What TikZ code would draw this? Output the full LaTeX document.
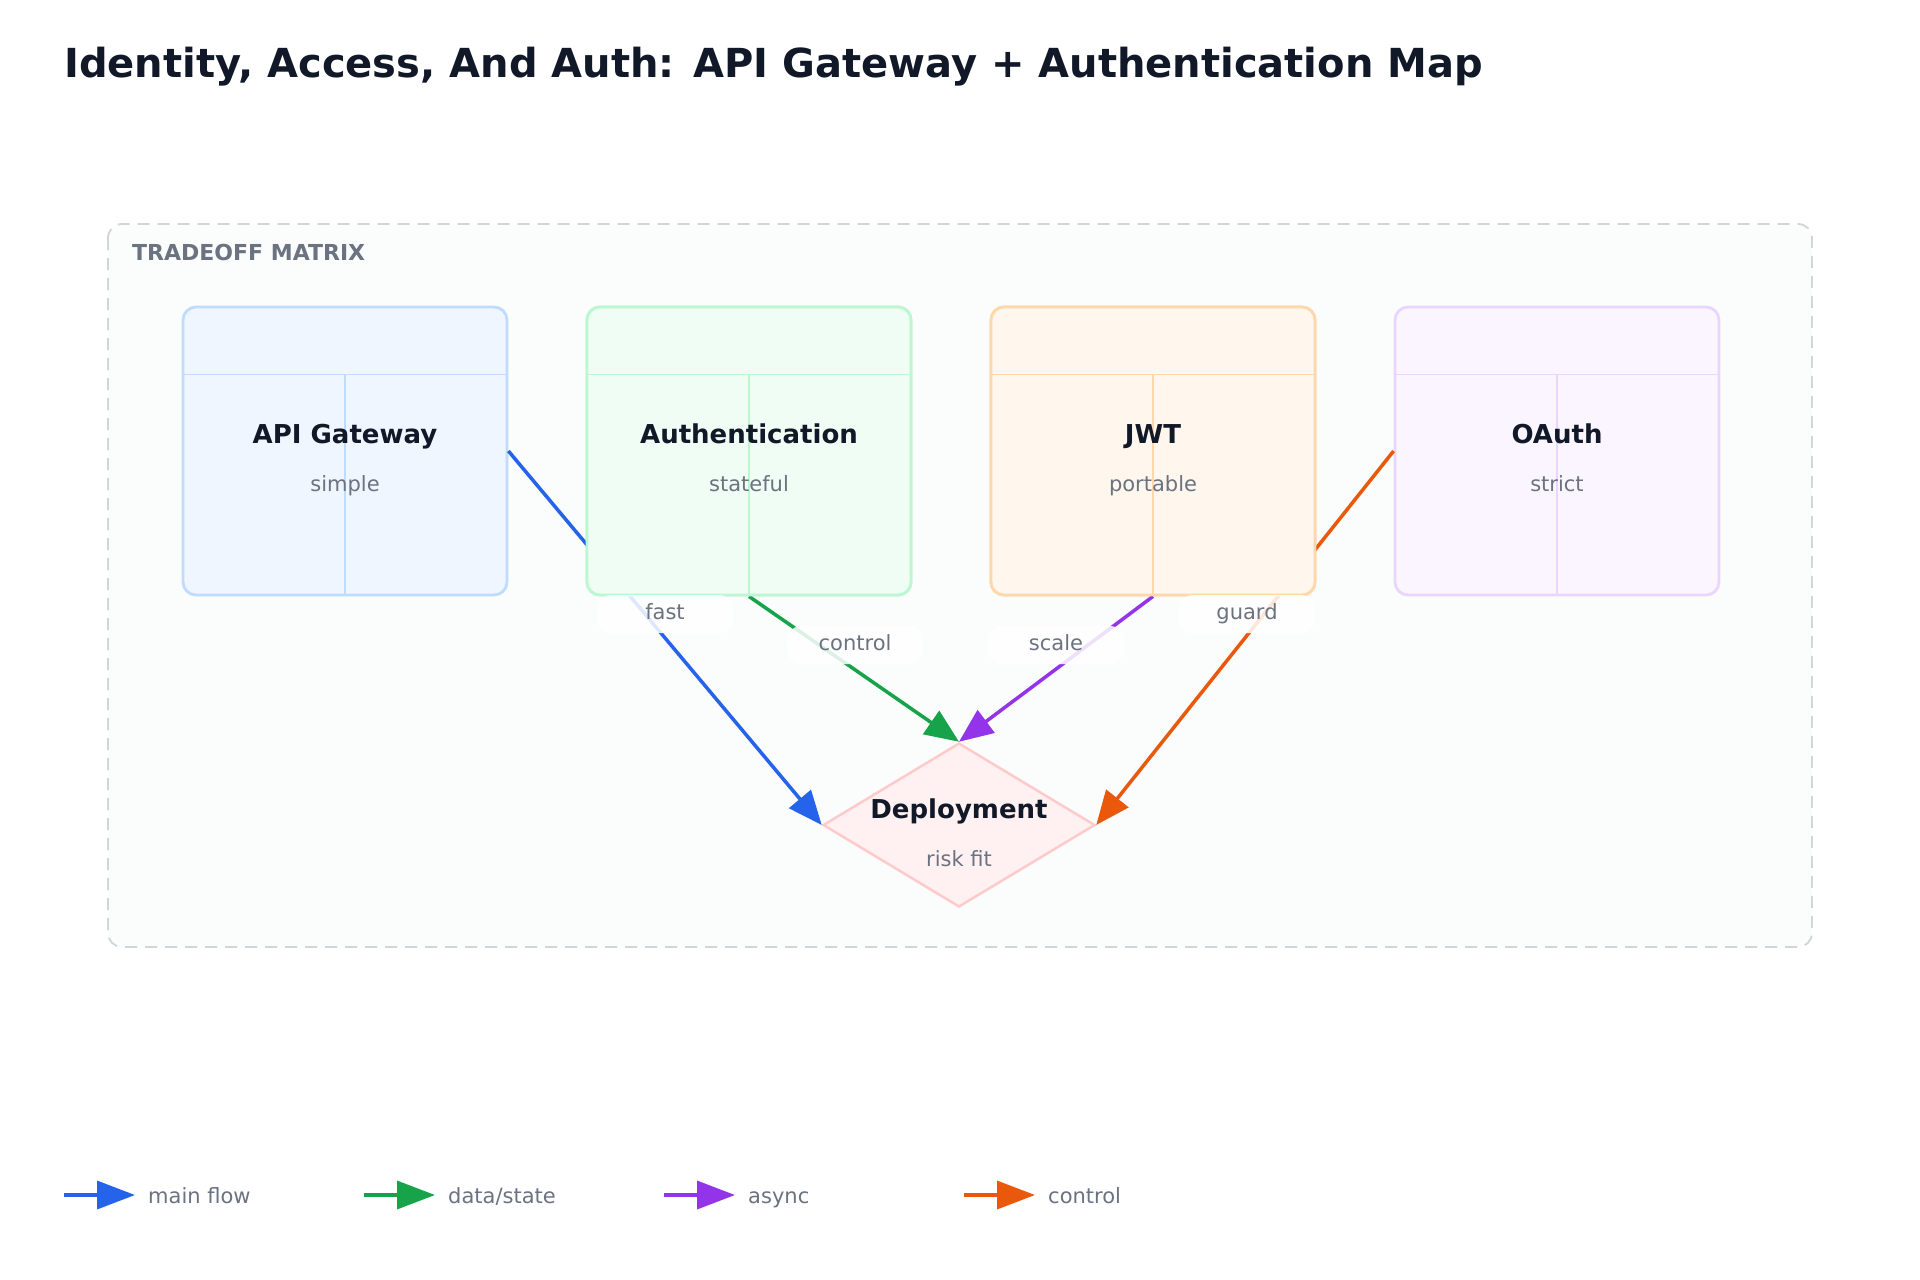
\documentclass[tikz,border=0pt]{standalone}
\usepackage{fontspec}
\setmainfont{DejaVu Sans}
\usetikzlibrary{arrows.meta,shapes.geometric}
\definecolor{ink}{HTML}{111827}
\definecolor{muted}{HTML}{6B7280}
\definecolor{framec}{HTML}{D1D5DB}
\definecolor{framefill}{HTML}{FBFCFC}
\definecolor{cblue}{HTML}{2563EB}
\definecolor{cgreen}{HTML}{16A34A}
\definecolor{cpurple}{HTML}{9333EA}
\definecolor{corange}{HTML}{EA580C}
\definecolor{fblue}{HTML}{EFF6FF}\definecolor{sblue}{HTML}{BFDBFE}
\definecolor{fgreen}{HTML}{F0FDF4}\definecolor{sgreen}{HTML}{BBF7D0}
\definecolor{forange}{HTML}{FFF7ED}\definecolor{sorange}{HTML}{FED7AA}
\definecolor{fpurple}{HTML}{FAF5FF}\definecolor{spurple}{HTML}{E9D5FF}
\definecolor{fred}{HTML}{FFF1F2}\definecolor{sred}{HTML}{FECACA}
\tikzset{
  card/.style={draw=#1, line width=2.8pt, rounded corners=13pt, minimum width=324pt, minimum height=288pt, inner sep=0pt},
  divider/.style={draw=#1, line width=1.6pt},
  cardtitle/.style={anchor=base, text=ink, font=\fontsize{26}{31}\selectfont\bfseries, inner sep=0pt},
  cardsub/.style={anchor=base, text=muted, font=\fontsize{21}{25}\selectfont, inner sep=0pt},
  conn/.style={draw=#1, line width=3.5pt, -{Triangle[length=34pt,width=28pt]}},
  lbl/.style={fill=white, fill opacity=0.85, text opacity=1, text=muted, rounded corners=14pt, minimum width=136pt, minimum height=38pt, inner sep=0pt, font=\fontsize{21}{25}\selectfont, text height=15pt, text depth=4pt},
  legarrow/.style={draw=#1, line width=3.5pt, -{Triangle[length=38pt,width=28pt]}},
  legtext/.style={anchor=base west, text=muted, font=\fontsize{21}{25}\selectfont, inner sep=0pt},
}
\begin{document}
\begin{tikzpicture}[x=1pt,y=-1pt]
\useasboundingbox[fill=white] (0,0) rectangle (1920,1280);
% title
\node[anchor=base west, inner sep=0pt, text=ink, font=\fontsize{40}{48}\selectfont\bfseries] (title) at (64,77) {Identity, Access, And Auth: API Gateway + Authentication Map};
% frame
\draw[framec, fill=framefill, line width=1.8pt, dash pattern=on 12pt off 8pt, rounded corners=14pt] (108,224) rectangle (1812,947);
\node[anchor=base west, inner sep=0pt, text=muted, font=\fontsize{22}{26}\selectfont\bfseries] (frametitle) at (132,260) {TRADEOFF MATRIX};
% nodes (shapes)
\node[card=sblue, fill=fblue] (gw) at (345,451) {};
\node[card=sgreen, fill=fgreen] (au) at (749,451) {};
\node[card=sorange, fill=forange] (jwt) at (1153,451) {};
\node[card=spurple, fill=fpurple] (oa) at (1557,451) {};
\node[diamond, draw=sred, fill=fred, line width=2.5pt, minimum width=272pt, minimum height=164pt, inner sep=0pt] (dep) at (959,825) {};
% connectors behind cards: redraw cards on top
\draw[conn=cblue] (gw.east) -- (dep.west);
\draw[conn=corange] (oa.west) -- (dep.east);
\draw[conn=cgreen] (au.south) -- (dep.north);
\draw[conn=cpurple] (jwt.south) -- (dep.north);
\node[card=sgreen, fill=fgreen] (au2) at (749,451) {};
\node[card=sorange, fill=forange] (jwt2) at (1153,451) {};
% card dividers
\foreach \n/\c in {gw/sblue,au2/sgreen,jwt2/sorange,oa/spurple}{
  \draw[divider=\c] ([yshift=-69pt]\n.north west) -- ([yshift=-69pt]\n.north east);
  \draw[divider=\c] ([yshift=-69pt]\n.north) -- (\n.south);
}
% card texts
\node[cardtitle] (gwt) at (345,443) {API Gateway};
\node[cardsub] (gws) at (345,491) {simple};
\node[cardtitle] (aut) at (749,443) {Authentication};
\node[cardsub] (aus) at (749,491) {stateful};
\node[cardtitle] (jwtt) at (1153,443) {JWT};
\node[cardsub] (jwts) at (1153,491) {portable};
\node[cardtitle] (oat) at (1557,443) {OAuth};
\node[cardsub] (oas) at (1557,491) {strict};
\node[cardtitle] (dept) at (959,818) {Deployment};
\node[cardsub] (deps) at (959,866) {risk fit};
% connector labels
\node[lbl] (lfast) at (665,614) {fast};
\node[lbl] (lcontrol) at (855,645) {control};
\node[lbl] (lscale) at (1056,645) {scale};
\node[lbl] (lguard) at (1247,614) {guard};
% legend
\coordinate (la1) at (64,1195); \coordinate (lb1) at (135,1195);
\coordinate (la2) at (364,1195); \coordinate (lb2) at (435,1195);
\coordinate (la3) at (664,1195); \coordinate (lb3) at (735,1195);
\coordinate (la4) at (964,1195); \coordinate (lb4) at (1035,1195);
\draw[legarrow=cblue] (la1) -- (lb1);
\draw[legarrow=cgreen] (la2) -- (lb2);
\draw[legarrow=cpurple] (la3) -- (lb3);
\draw[legarrow=corange] (la4) -- (lb4);
\node[legtext] (lt1) at (148,1203) {main flow};
\node[legtext] (lt2) at (448,1203) {data/state};
\node[legtext] (lt3) at (748,1203) {async};
\node[legtext] (lt4) at (1048,1203) {control};
\end{tikzpicture}
\end{document}
